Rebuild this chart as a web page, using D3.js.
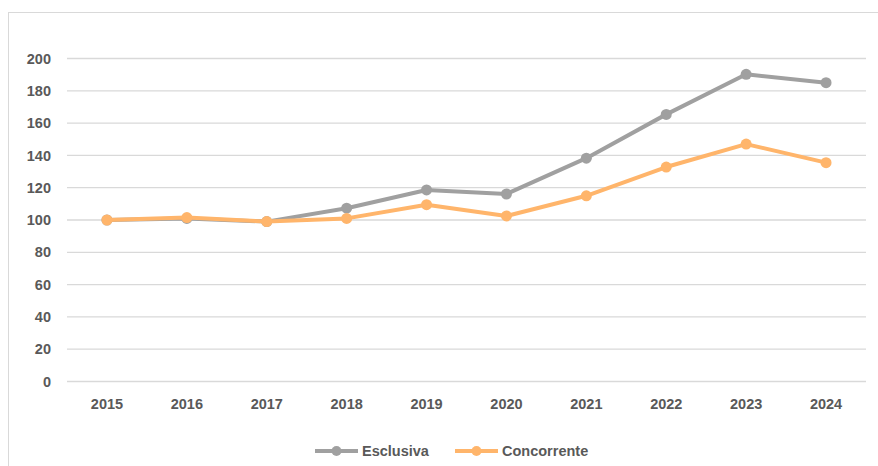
<!DOCTYPE html>
<html><head><meta charset="utf-8">
<script src="https://cdn.jsdelivr.net/npm/d3@7"></script>
<style>
body{margin:0;background:#fff;}
svg{display:block;font-family:"Liberation Sans",Arial,sans-serif;}
</style></head>
<body><svg id="c" width="878" height="466"></svg>
<script>
const years = ["2015","2016","2017","2018","2019","2020","2021","2022","2023","2024"];
const esclusiva = [100, 101, 99, 107.3, 118.6, 116.1, 138.3, 165.4, 190.2, 185.0];
const concorrente = [100, 101.5, 99, 101, 109.5, 102.5, 115, 132.8, 147, 135.5];
const yTicks = [0,20,40,60,80,100,120,140,160,180,200];
const seriesNames = ["Esclusiva","Concorrente"];
const colors = ["#a0a0a0","#ffb56b"];

const svg = d3.select("#c");
svg.append("rect").attr("x",8.5).attr("y",12.5).attr("width",900).attr("height",470)
  .attr("fill","none").attr("stroke","#d9d9d9").attr("stroke-width",1);

const x = d3.scaleBand().domain(years).range([67,866]);
const y = d3.scaleLinear().domain([0,200]).range([381.5,58.5]);

svg.append("g").selectAll("line").data(yTicks).join("line")
  .attr("x1",67).attr("x2",866).attr("y1",d=>y(d)).attr("y2",d=>y(d))
  .attr("stroke","#d9d9d9").attr("stroke-width",1.3);

const yAxis = svg.append("g").attr("transform","translate(67,0)")
  .call(d3.axisLeft(y).tickValues(yTicks).tickSize(0).tickPadding(16));
yAxis.select(".domain").remove();
yAxis.selectAll("text").attr("fill","#595959").attr("font-size",14.5).attr("font-weight","bold");

const xAxis = svg.append("g").attr("transform","translate(0,381.5)")
  .call(d3.axisBottom(x).tickSize(0).tickPadding(17));
xAxis.select(".domain").remove();
xAxis.selectAll("text").attr("fill","#595959").attr("font-size",14.5).attr("font-weight","bold");

const data = [esclusiva, concorrente];
const line = d3.line().x((d,i)=>x(years[i])+x.bandwidth()/2).y(d=>y(d));
data.forEach((s,k)=>{
  const g = svg.append("g");
  g.append("path").datum(s).attr("d",line).attr("fill","none")
    .attr("stroke",colors[k]).attr("stroke-width",4).attr("stroke-linejoin","round");
  g.selectAll("circle").data(s).join("circle")
    .attr("cx",(d,i)=>x(years[i])+x.bandwidth()/2).attr("cy",d=>y(d)).attr("r",5.5)
    .attr("fill",colors[k]);
});

const leg = [{x:315},{x:455}];
seriesNames.forEach((n,k)=>{
  const g = svg.append("g").attr("transform",`translate(${leg[k].x},451)`);
  g.append("line").attr("x1",0).attr("x2",43).attr("y1",0).attr("y2",0)
    .attr("stroke",colors[k]).attr("stroke-width",4);
  g.append("circle").attr("cx",21.5).attr("cy",0).attr("r",5).attr("fill",colors[k]);
  g.append("text").attr("x",47).attr("y",0).attr("dy","0.35em")
    .attr("fill","#595959").attr("font-size",14.5).attr("font-weight","bold").text(n);
});
</script></body></html>
